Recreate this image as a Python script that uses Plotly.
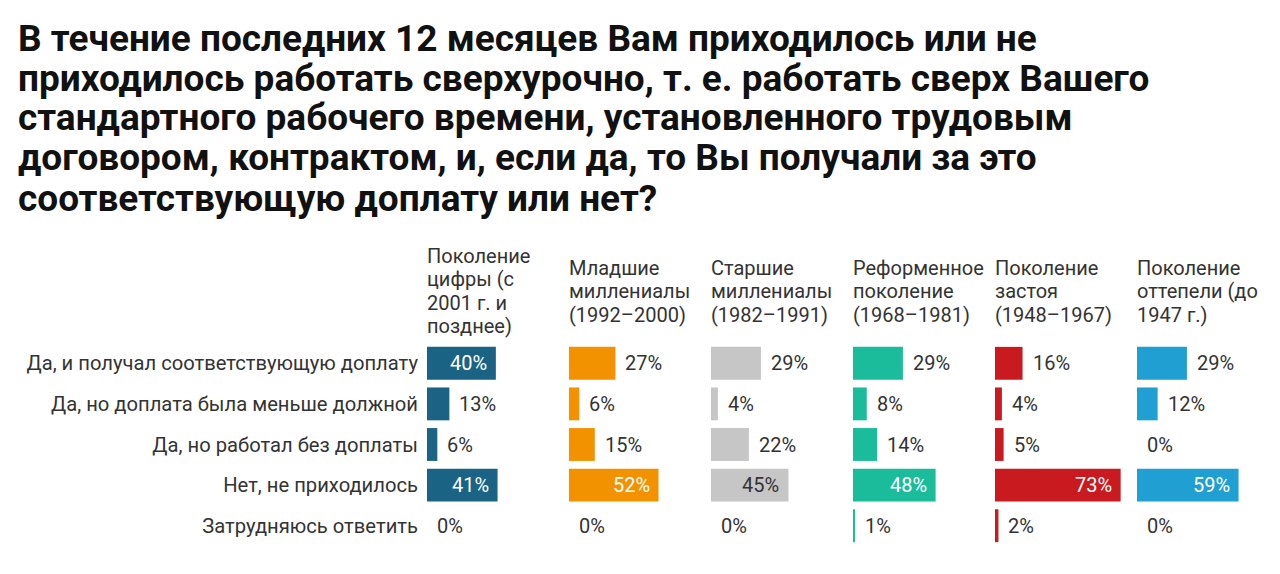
import plotly.graph_objects as go
from plotly.subplots import make_subplots

title_lines = [
    "В течение последних 12 месяцев Вам приходилось или не",
    "приходилось работать сверхурочно, т. е. работать сверх Вашего",
    "стандартного рабочего времени, установленного трудовым",
    "договором, контрактом, и, если да, то Вы получали за это",
    "соответствующую доплату или нет?",
]

answers = [
    "Да, и получал соответствующую доплату",
    "Да, но доплата была меньше должной",
    "Да, но работал без доплаты",
    "Нет, не приходилось",
    "Затрудняюсь ответить",
]

generations = [
    ["Поколение", "цифры (с", "2001 г. и", "позднее)"],
    ["Младшие", "миллениалы", "(1992–2000)"],
    ["Старшие", "миллениалы", "(1982–1991)"],
    ["Реформенное", "поколение", "(1968–1981)"],
    ["Поколение", "застоя", "(1948–1967)"],
    ["Поколение", "оттепели (до", "1947 г.)"],
]

digital = [40, 13, 6, 41, 0]
young_millennials = [27, 6, 15, 52, 0]
old_millennials = [29, 4, 22, 45, 0]
reform = [29, 8, 14, 48, 1]
stagnation = [16, 4, 5, 73, 2]
thaw = [29, 12, 0, 59, 0]

series = [digital, young_millennials, old_millennials, reform, stagnation, thaw]
colors = ['#1b6384', '#f39200', '#c6c6c6', '#1bbc9b', '#c91a1f', '#1f9fd2']
inside_colors = ['white', 'white', '#333333', 'white', 'white', 'white']

FONT = 'Roboto'
TXT = '#333333'

# page layout (the browser page adds ~8px body margin)
W, H = 1272, 566
ML, MR, MT, MB = 419, 1, 335, 28
PH = H - MT - MB


def py(y_px):
    # screenshot y pixel -> paper coordinate
    return (MT + PH - (y_px - 8)) / PH


def px(x_px):
    return (x_px - 8 - ML) / (W - ML - MR)


fig = make_subplots(rows=1, cols=6, shared_yaxes=True, horizontal_spacing=0)

for i, vals in enumerate(series):
    col = i + 1
    fig.add_trace(go.Bar(
        y=answers, x=vals, orientation='h',
        marker=dict(color=colors[i], line=dict(width=0)),
        width=0.81, showlegend=False, hoverinfo='skip'
    ), row=1, col=col)

    xref = 'x' if col == 1 else f'x{col}'
    yref = 'y' if col == 1 else f'y{col}'
    # percentage labels: inside for long bars, outside otherwise
    for ans, v in zip(answers, vals):
        inside = v >= 35
        fig.add_annotation(
            x=v, y=ans, xref=xref, yref=yref,
            text=f"{v}%", showarrow=False,
            xanchor='right' if inside else 'left',
            xshift=-7 if inside else 8,
            font=dict(family=FONT, size=20,
                      color=inside_colors[i] if inside else TXT),
        )
    # generation header, vertically centred block
    lines = generations[i]
    n = len(lines)
    for k, line in enumerate(lines):
        yc = 291 + (k - (n - 1) / 2) * 23.5
        fig.add_annotation(
            x=0, xref=f'{xref} domain', y=py(yc), yref='paper',
            text=line, showarrow=False, align='left',
            xanchor='left', yanchor='middle', xshift=-2,
            font=dict(family=FONT, size=20, color=TXT),
        )
    fig.update_xaxes(range=[0, 82.5], visible=False, showgrid=False,
                     zeroline=False, fixedrange=True, row=1, col=col)

for k, line in enumerate(title_lines):
    fig.add_annotation(
        x=px(16), xref='paper', y=py(38 + 40 * k), yref='paper',
        text=f"<b>{line}</b>", showarrow=False, align='left',
        xanchor='left', yanchor='middle',
        font=dict(family=FONT, size=37, color='#111111'),
    )

fig.update_yaxes(autorange='reversed', showgrid=False, zeroline=False,
                 showline=False, ticks='', ticklabelstandoff=8,
                 tickfont=dict(family=FONT, size=20.2, color=TXT))

fig.update_layout(
    width=W, height=H,
    margin=dict(l=ML, r=MR, t=MT, b=MB),
    plot_bgcolor='white', paper_bgcolor='white',
    bargap=0.19,
)

fig.write_html("out.html")
